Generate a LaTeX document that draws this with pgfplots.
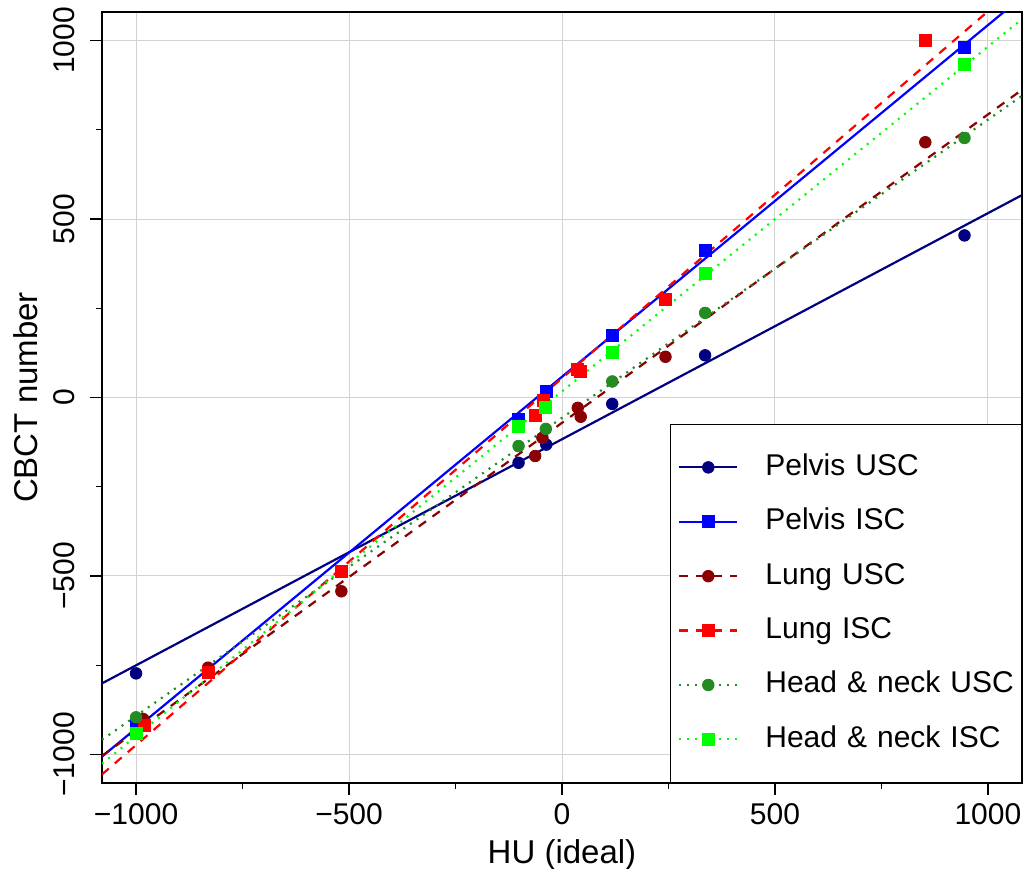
\documentclass[border=0pt]{standalone}
\usepackage{fontspec}
\setmainfont{Liberation Sans}
\usepackage{pgfplots}
\pgfplotsset{compat=1.18}
\definecolor{pusc}{HTML}{000080}
\definecolor{pisc}{HTML}{0000FF}
\definecolor{lusc}{HTML}{8B0000}
\definecolor{lisc}{HTML}{FF0000}
\definecolor{hnusc}{HTML}{228B22}
\definecolor{hnisc}{HTML}{00FF00}
\definecolor{gridgray}{HTML}{D3D3D3}
\begin{document}
\begin{tikzpicture}
\begin{axis}[
  name=ax,
  scale only axis,
  width=460pt, height=385.5pt,
  xmin=-1080, xmax=1080, ymin=-1080, ymax=1080,
  axis line style={line width=0.8pt},
  xtick={-1000,-500,0,500,1000},
  xticklabels={−1000,−500,0,500,1000},
  ytick={-1000,-500,0,500,1000},
  yticklabels={−1000,−500,0,500,1000},
  minor xtick={-750,-250,250,750},
  minor ytick={-750,-250,250,750},
  tick align=outside,
  tick pos=left,
  major tick length=6pt, minor tick length=3pt,
  tick style={black, line width=0.6pt},
  grid=major,
  grid style={gridgray, line width=0.5pt},
  ticklabel style={font=\fontsize{15}{18}\selectfont},
  xticklabel style={anchor=base},
  xticklabel shift=15pt,
  yticklabel style={rotate=90, anchor=base},
  yticklabel shift=7.5pt,
  xlabel={HU (ideal)},
  xlabel style={font=\fontsize{16.5}{20}\selectfont, at={([yshift=-40.5pt]axis description cs:0.5,0)}, anchor=base},
  ylabel={CBCT number},
  ylabel style={font=\fontsize{16.5}{20}\selectfont, at={([xshift=-32pt]axis description cs:0,0.5)}, rotate=0, anchor=base},
  legend style={at={(rel axis cs:1,0)}, anchor=south east, draw=black, line width=0.6pt, fill=white,
    inner xsep=0pt, inner ysep=14.5pt, row sep=13.2pt, column sep=13.5pt,
    font=\fontsize{15}{18}\selectfont,
    nodes={inner sep=0pt, text height=11pt, text depth=3pt, text width=128pt, align=left}},
  legend cell align=left,
  legend image code/.code={\path (0pt,0pt) (33pt,0pt); \draw[mark repeat=2,mark phase=2,#1] plot coordinates {(4pt,0pt) (18.5pt,0pt) (33pt,0pt)};},
]
% Pelvis USC
\addplot[only marks, mark=*, mark size=2.9pt, color=pusc, forget plot] coordinates {
(-1000,-773) (-102,-183) (-37,-132) (118,-18) (336,118) (945,454)};
\addplot[pusc, line width=1.1pt, forget plot] coordinates {(-1080,-801) (1080,567)};
% Pelvis ISC
\addplot[only marks, mark=square*, mark size=3pt, color=pisc, forget plot] coordinates {
(-1000,-918) (-102,-62) (-37,18) (118,175) (336,413) (945,982)};
\addplot[pisc, line width=1.1pt, forget plot] coordinates {(-1080,-1006) (1080,1122)};
% Lung USC
\addplot[only marks, mark=*, mark size=2.9pt, color=lusc, forget plot] coordinates {
(-983,-901) (-831,-757) (-518,-543) (-63,-164) (-46,-113) (37,-29) (44,-54) (243,114) (853,715)};
\addplot[lusc, line width=1.1pt, dash pattern=on 4.5pt off 4pt, forget plot] coordinates {(-1080,-1004) (1080,862)};
% Lung ISC
\addplot[only marks, mark=square*, mark size=3pt, color=lisc, forget plot] coordinates {
(-980,-918) (-831,-771) (-518,-488) (-63,-50) (-44,-8) (37,78) (44,74) (243,276) (854,1001)};
\addplot[lisc, line width=1.1pt, dash pattern=on 4.5pt off 4pt, forget plot] coordinates {(-1080,-1056) (1080,1164)};
% Head & neck USC
\addplot[only marks, mark=*, mark size=2.9pt, color=hnusc, forget plot] coordinates {
(-1000,-896) (-102,-136) (-38,-88) (118,45) (336,237) (945,727)};
\addplot[hnusc, line width=1.1pt, dash pattern=on 1pt off 3pt, forget plot] coordinates {(-1080,-959) (1080,845)};
% Head & neck ISC
\addplot[only marks, mark=square*, mark size=3pt, color=hnisc, forget plot] coordinates {
(-1000,-942) (-102,-82) (-38,-27) (118,125) (336,349) (945,933)};
\addplot[hnisc, line width=1.1pt, dash pattern=on 1pt off 3pt, forget plot] coordinates {(-1080,-1026) (1080,1060)};
% legend
\addlegendimage{pusc, line width=1.1pt, mark=*, mark options={solid, line width=0.4pt, mark size=2.9pt}}
\addlegendentry{Pelvis USC}
\addlegendimage{pisc, line width=1.1pt, mark=square*, mark options={solid, line width=0.4pt, mark size=3pt}}
\addlegendentry{Pelvis ISC}
\addlegendimage{lusc, line width=1.1pt, dash pattern=on 4.5pt off 4pt, mark=*, mark options={solid, line width=0.4pt, mark size=2.9pt}}
\addlegendentry{Lung USC}
\addlegendimage{lisc, line width=1.1pt, dash pattern=on 4.5pt off 4pt, mark=square*, mark options={solid, line width=0.4pt, mark size=3pt}}
\addlegendentry{Lung ISC}
\addlegendimage{hnusc, line width=1.1pt, dash pattern=on 1pt off 3pt, mark=*, mark options={solid, line width=0.4pt, mark size=2.9pt}}
\addlegendentry{Head \& neck USC}
\addlegendimage{hnisc, line width=1.1pt, dash pattern=on 1pt off 3pt, mark=square*, mark options={solid, line width=0.4pt, mark size=3pt}}
\addlegendentry{Head \& neck ISC}
\end{axis}
\pgfresetboundingbox
\path ([xshift=-51pt,yshift=-43pt]ax.south west) rectangle ([xshift=1pt,yshift=6pt]ax.north east);
\end{tikzpicture}
\end{document}
